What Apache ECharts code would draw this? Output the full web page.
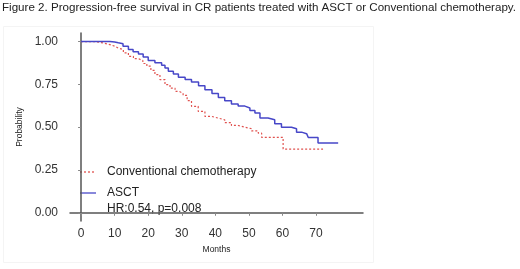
<!DOCTYPE html>
<html>
<head>
<meta charset="utf-8">
<script src="https://cdn.jsdelivr.net/npm/echarts@6/dist/echarts.min.js"></script>
<style>
  html, body { margin: 0; padding: 0; background: #fff; }
  #chart { width: 520px; height: 269px; }
</style>
</head>
<body>
<div id="chart"></div>
<script>
// Kaplan-Meier steps: [month, probability]
const asctCurve = [
  [0, 1], [8.6, 0.998], [10, 0.993], [11.1, 0.987], [12.5, 0.972], [14.1, 0.953],
  [15.5, 0.94], [17.1, 0.928], [18.5, 0.91], [20, 0.889], [22, 0.876], [24, 0.862],
  [25, 0.845], [26, 0.827], [27.5, 0.81], [29, 0.791], [31, 0.778], [32.9, 0.764],
  [35, 0.742], [36.9, 0.719], [39, 0.697], [40.9, 0.674], [42.8, 0.655], [44.8, 0.635],
  [46.8, 0.623], [48.8, 0.612], [50.3, 0.598], [51.8, 0.583], [53.3, 0.553], [55.7, 0.543],
  [57.7, 0.52], [59.7, 0.499], [62.7, 0.491], [64.2, 0.471], [65.7, 0.462], [67.2, 0.452],
  [67.7, 0.44], [70.6, 0.407], [76.6, 0.407]
];
const conventionalCurve = [
  [0, 1], [4.2, 0.992], [6.5, 0.982], [8.6, 0.973], [10, 0.962], [11.1, 0.953],
  [12.6, 0.934], [14.1, 0.914], [15.6, 0.9], [17.1, 0.889], [18.4, 0.872], [19.6, 0.856],
  [20.8, 0.832], [22, 0.807], [23.5, 0.778], [25, 0.748], [26.5, 0.728], [28, 0.709],
  [29.2, 0.698], [30.4, 0.686], [31.6, 0.655], [32.9, 0.622], [34.9, 0.592], [36.9, 0.563],
  [38.9, 0.553], [40.9, 0.543], [42.8, 0.527], [44.8, 0.51], [46.8, 0.5], [48.8, 0.491],
  [50.8, 0.478], [52.8, 0.465], [53.8, 0.44], [60.2, 0.372], [72.1, 0.372]
];
const monthTicks = [0, 10, 20, 30, 40, 50, 60, 70];
const probTicks = [0, 0.25, 0.5, 0.75, 1];
const seriesNames = ['Conventional chemotherapy', 'ASCT'];
const hrText = 'HR:0.54, p=0.008';
const titleText = 'Figure 2. Progression-free survival in CR patients treated with ASCT or Conventional chemotherapy.';

const redColor = '#e0524f';
const blueColor = '#4747c8';
const axisGrey = '#555';
const labelColor = '#333';
const font = 'Liberation Sans';

// hand-drawn legend, the figure has plain line swatches without symbols
const legendRows = [
  { y: 172, name: seriesNames[0], color: redColor, dash: [2, 2] },
  { y: 193, name: seriesNames[1], color: blueColor, dash: null }
];
const legendGraphics = [];
legendRows.forEach(r => {
  legendGraphics.push({
    type: 'line',
    shape: { x1: 80, y1: r.y, x2: 96, y2: r.y },
    style: { stroke: r.color, lineWidth: 1.3, lineDash: r.dash }
  });
  legendGraphics.push({
    type: 'text',
    x: 107, y: r.y,
    style: { text: r.name, fontFamily: font, fontSize: 12, fill: '#222', textVerticalAlign: 'middle' }
  });
});

const chart = echarts.init(document.getElementById('chart'));
const option = {
  animation: false,
  backgroundColor: '#fff',
  title: {
    text: titleText,
    left: 2,
    top: 2,
    padding: 0,
    textStyle: { fontFamily: font, fontSize: 11.6, fontWeight: 'normal', color: '#222' }
  },
  grid: { left: 70, right: 157, top: 33, bottom: 48 },
  graphic: legendGraphics.concat([
    {
      type: 'text',
      x: 107, y: 209,
      style: { text: hrText, fontFamily: font, fontSize: 12, fill: '#222', textVerticalAlign: 'middle' }
    },
    {
      type: 'rect',
      shape: { x: 3.5, y: 26.5, width: 370, height: 236 },
      style: { fill: 'none', stroke: '#f4f4f4', lineWidth: 1 },
      z: -1
    }
  ]),
  xAxis: {
    type: 'value',
    min: -3.3,
    max: 84,
    name: 'Months',
    nameLocation: 'middle',
    nameGap: 17,
    nameTextStyle: { fontFamily: font, fontSize: 8.5, color: '#222' },
    splitLine: { show: false },
    axisLine: { lineStyle: { color: axisGrey, width: 1.5 } },
    axisTick: { customValues: monthTicks, length: 3, lineStyle: { color: '#888' } },
    axisLabel: {
      customValues: monthTicks,
      margin: 7,
      fontFamily: font, fontSize: 12, color: labelColor
    }
  },
  yAxis: {
    type: 'value',
    min: -0.048,
    max: 1.05,
    name: 'Probability',
    nameLocation: 'middle',
    nameGap: 38,
    nameTextStyle: { fontFamily: font, fontSize: 8.5, color: '#222' },
    splitLine: { show: false },
    axisLine: { show: true, lineStyle: { color: axisGrey, width: 1.5 } },
    axisTick: { show: true, customValues: probTicks, length: 3, lineStyle: { color: '#888' } },
    axisLabel: {
      customValues: probTicks,
      margin: 12,
      formatter: v => v.toFixed(2),
      fontFamily: font, fontSize: 12, color: labelColor
    }
  },
  series: [
    {
      name: seriesNames[0],
      type: 'line',
      step: 'end',
      symbol: 'none',
      data: conventionalCurve,
      lineStyle: { width: 1.2, type: [2, 2], color: redColor }
    },
    {
      name: seriesNames[1],
      type: 'line',
      step: 'end',
      symbol: 'none',
      data: asctCurve,
      lineStyle: { width: 1.5, color: blueColor }
    }
  ]
};
chart.setOption(option);
</script>
</body>
</html>
